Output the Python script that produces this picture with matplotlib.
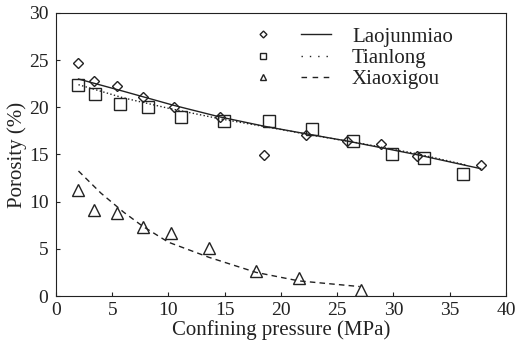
import numpy as np
import matplotlib
matplotlib.use("Agg")
from matplotlib import pyplot as plt
from matplotlib.lines import Line2D
from matplotlib.legend_handler import HandlerTuple

plt.rcParams['font.family'] = ['Liberation Serif', 'DejaVu Serif']

# measured points
lao_x = [2.0, 3.4, 5.4, 7.7, 10.5, 14.6, 18.5, 22.2, 25.9, 28.9, 32.1, 37.75]
lao_y = [24.7, 22.8, 22.3, 21.1, 20.0, 19.0, 14.95, 17.1, 16.4, 16.1, 14.8, 13.9]

tian_x = [2.0, 3.5, 5.7, 8.2, 11.1, 14.9, 18.9, 22.8, 26.4, 29.9, 32.7, 36.2]
tian_y = [22.4, 21.4, 20.4, 20.0, 19.0, 18.6, 18.5, 17.7, 16.4, 15.0, 14.6, 12.9]

xiao_x = [2.0, 3.4, 5.4, 7.7, 10.2, 13.6, 17.8, 21.6, 27.1]
xiao_y = [11.2, 9.1, 8.8, 7.3, 6.7, 5.1, 2.6, 1.95, 0.65]

# trend lines
lao_fit_x = [2.0, 6.0, 10.5, 14.5, 18.5, 22.2, 26.0, 32.0, 37.75]
lao_fit_y = [23.0, 21.7, 20.2, 19.0, 18.0, 17.2, 16.4, 15.0, 13.5]

tian_fit_x = [2.0, 6.0, 10.0, 14.5, 19.3, 23.0, 27.0, 32.0, 36.4]
tian_fit_y = [22.4, 21.0, 19.9, 18.8, 17.8, 17.0, 16.2, 15.1, 13.9]

xiao_fit_x = [2.0, 4.0, 6.0, 7.7, 10.0, 13.6, 17.8, 21.6, 27.0]
xiao_fit_y = [13.25, 10.9, 8.9, 7.4, 5.7, 4.1, 2.5, 1.6, 1.0]

names = ['Laojunmiao', 'Tianlong', 'Xiaoxigou']

c = '#222222'
fs = 14
fig = plt.figure(figsize=(5.16, 3.4), dpi=100)
ax = fig.add_axes([0.1085, 0.1294, 0.872, 0.8324])

mk = dict(ls='none', mfc='none', mec=c, mew=1.0)
ax.plot(lao_x, lao_y, marker='D', ms=5.5, **mk)
ax.plot(tian_x, tian_y, marker='s', ms=8, **mk)
ax.plot(xiao_x, xiao_y, marker='^', ms=8, **mk)

ax.plot(lao_fit_x, lao_fit_y, '-', color=c, lw=1.0)
ax.plot(tian_fit_x, tian_fit_y, ':', color=c, lw=1.0)
ax.plot(xiao_fit_x, xiao_fit_y, '--', color=c, lw=1.0, dashes=(4, 3))

ax.set_xlim(0, 40)
ax.set_ylim(0, 30)
ax.set_xticks(range(0, 41, 5))
ax.set_yticks(range(0, 31, 5))
ax.tick_params(direction='in', length=3, labelsize=fs, colors=c)
ax.tick_params(axis='x', pad=4.5)
ax.tick_params(axis='y', pad=5.5)
for s in ax.spines.values():
    s.set_color(c)
ax.set_xlabel('Confining pressure (MPa)', fontsize=fs + 1, color=c, labelpad=0.3)
ax.set_ylabel('Porosity (%)', fontsize=fs + 1, color=c, labelpad=1)

# legend: small marker | line sample | name
lmk = dict(ls='none', mfc='none', mec=c, mew=1.0)
handles = [
    (Line2D([], [], marker='D', ms=3.5, **lmk), Line2D([], [], ls='-', color=c, lw=1.0)),
    (Line2D([], [], marker='s', ms=5, **lmk), Line2D([], [], ls=(0, (1, 5)), color=c, lw=1.0)),
    (Line2D([], [], marker='^', ms=5, **lmk), Line2D([], [], ls=(0, (4, 4)), color=c, lw=1.0)),
]
ax.legend(handles, names, handler_map={tuple: HandlerTuple(ndivide=None, pad=1.1)},
          loc='upper left', bbox_to_anchor=(0.394, 1.002), frameon=False, fontsize=fs + 1,
          handlelength=4.0, handletextpad=1.0, labelspacing=0.08, borderpad=0.2,
          labelcolor=c)

fig.savefig('out.png', dpi=100)
